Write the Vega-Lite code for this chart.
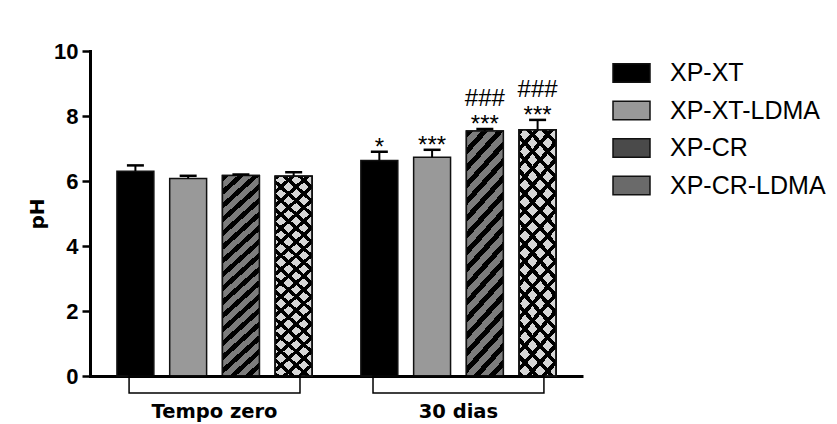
{
  "$schema": "https://vega.github.io/schema/vega-lite/v6.json",
  "width": 493,
  "height": 325,
  "autosize": "none",
  "padding": {"left": 90, "top": 51, "right": 254, "bottom": 48},
  "background": "white",
  "config": {
    "view": {"stroke": null},
    "axis": {"grid": false},
    "axisY": {"domainWidth": 3, "domainColor": "#000", "domainCap": "square", "tickWidth": 2.5, "tickSize": 8, "tickColor": "#000", "labelFont": "Liberation Sans", "labelFontWeight": "bold", "labelFontSize": 22, "labelColor": "#000", "labelPadding": 4, "titleFont": "DejaVu Sans", "titleFontSize": 20, "titleFontWeight": "bold", "titleColor": "#000", "titlePadding": 6, "zindex": 1},
    "axisX": {"domainWidth": 3, "domainColor": "#000", "ticks": false, "tickSize": 0, "labelFont": "DejaVu Sans", "labelFontWeight": "bold", "labelFontSize": 19.5, "labelColor": "#000", "labelPadding": 26, "labelAngle": 0, "zindex": 1}
  },
  "data": {"values": [
    {"time": "Tempo zero", "group": "XP-XT", "ph": 6.3, "hi": 6.48, "sig": ""},
    {"time": "Tempo zero", "group": "XP-XT-LDMA", "ph": 6.08, "hi": 6.16, "sig": ""},
    {"time": "Tempo zero", "group": "XP-CR", "ph": 6.17, "hi": 6.2, "sig": ""},
    {"time": "Tempo zero", "group": "XP-CR-LDMA", "ph": 6.15, "hi": 6.27, "sig": ""},
    {"time": "30 dias", "group": "XP-XT", "ph": 6.63, "hi": 6.9, "sig": "*"},
    {"time": "30 dias", "group": "XP-XT-LDMA", "ph": 6.73, "hi": 6.96, "sig": "***"},
    {"time": "30 dias", "group": "XP-CR", "ph": 7.54, "hi": 7.6, "sig": "###\n***"},
    {"time": "30 dias", "group": "XP-CR-LDMA", "ph": 7.58, "hi": 7.88, "sig": "###\n***"}
  ]},
  "encoding": {
    "x": {"field": "time", "type": "nominal", "sort": ["Tempo zero", "30 dias"], "title": null, "scale": {"paddingInner": 0.135, "paddingOuter": 0.078}},
    "y": {"field": "ph", "type": "quantitative", "title": "pH", "scale": {"domain": [0, 10], "nice": false}, "axis": {"values": [0, 2, 4, 6, 8, 10]}}
  },
  "layer": [
    {
      "encoding": {
        "xOffset": {"field": "group", "type": "nominal", "sort": ["XP-XT", "XP-XT-LDMA", "XP-CR", "XP-CR-LDMA"], "scale": {"paddingInner": 0.3, "paddingOuter": 0.15}}
      },
      "layer": [
        {
          "mark": {"type": "bar", "stroke": "#111", "strokeWidth": 1.5},
          "encoding": {
            "color": {"field": "group", "type": "nominal", "title": null,
              "scale": {"domain": ["XP-XT", "XP-XT-LDMA", "XP-CR", "XP-CR-LDMA"], "range": ["#000000", "#999999", "#4a4a4a", "#6a6a6a"]},
              "legend": {"orient": "none", "legendX": 522, "legendY": 2.5, "symbolType": "M-1,-0.5H1V0.5H-1Z", "symbolSize": 1369, "symbolStrokeColor": "#111", "symbolStrokeWidth": 1.5, "symbolOpacity": 1, "labelFont": "Liberation Sans", "labelFontSize": 25, "labelColor": "#000", "labelOffset": 19, "rowPadding": 4.5, "labelLimit": 300}
            }
          }
        },
        {
          "transform": [{"filter": "datum.group === 'XP-CR'"}],
          "mark": {"type": "bar", "stroke": "#111", "strokeWidth": 1.5, "fill": {"gradient": "linear", "x1": 0, "y1": 0, "x2": 0.1886, "y2": 1.1349, "stops": [
            {"offset": 0, "color": "#000"}, {"offset": 0.02647, "color": "#000"}, {"offset": 0.02647, "color": "#7c7c7c"}, {"offset": 0.05882, "color": "#7c7c7c"},
            {"offset": 0.05882, "color": "#000"}, {"offset": 0.08529, "color": "#000"}, {"offset": 0.08529, "color": "#7c7c7c"}, {"offset": 0.11765, "color": "#7c7c7c"},
            {"offset": 0.11765, "color": "#000"}, {"offset": 0.14412, "color": "#000"}, {"offset": 0.14412, "color": "#7c7c7c"}, {"offset": 0.17647, "color": "#7c7c7c"},
            {"offset": 0.17647, "color": "#000"}, {"offset": 0.20294, "color": "#000"}, {"offset": 0.20294, "color": "#7c7c7c"}, {"offset": 0.23529, "color": "#7c7c7c"},
            {"offset": 0.23529, "color": "#000"}, {"offset": 0.26176, "color": "#000"}, {"offset": 0.26176, "color": "#7c7c7c"}, {"offset": 0.29412, "color": "#7c7c7c"},
            {"offset": 0.29412, "color": "#000"}, {"offset": 0.32059, "color": "#000"}, {"offset": 0.32059, "color": "#7c7c7c"}, {"offset": 0.35294, "color": "#7c7c7c"},
            {"offset": 0.35294, "color": "#000"}, {"offset": 0.37941, "color": "#000"}, {"offset": 0.37941, "color": "#7c7c7c"}, {"offset": 0.41176, "color": "#7c7c7c"},
            {"offset": 0.41176, "color": "#000"}, {"offset": 0.43823, "color": "#000"}, {"offset": 0.43823, "color": "#7c7c7c"}, {"offset": 0.47059, "color": "#7c7c7c"},
            {"offset": 0.47059, "color": "#000"}, {"offset": 0.49706, "color": "#000"}, {"offset": 0.49706, "color": "#7c7c7c"}, {"offset": 0.52941, "color": "#7c7c7c"},
            {"offset": 0.52941, "color": "#000"}, {"offset": 0.55588, "color": "#000"}, {"offset": 0.55588, "color": "#7c7c7c"}, {"offset": 0.58824, "color": "#7c7c7c"},
            {"offset": 0.58824, "color": "#000"}, {"offset": 0.61471, "color": "#000"}, {"offset": 0.61471, "color": "#7c7c7c"}, {"offset": 0.64706, "color": "#7c7c7c"},
            {"offset": 0.64706, "color": "#000"}, {"offset": 0.67353, "color": "#000"}, {"offset": 0.67353, "color": "#7c7c7c"}, {"offset": 0.70588, "color": "#7c7c7c"},
            {"offset": 0.70588, "color": "#000"}, {"offset": 0.73235, "color": "#000"}, {"offset": 0.73235, "color": "#7c7c7c"}, {"offset": 0.76471, "color": "#7c7c7c"},
            {"offset": 0.76471, "color": "#000"}, {"offset": 0.79118, "color": "#000"}, {"offset": 0.79118, "color": "#7c7c7c"}, {"offset": 0.82353, "color": "#7c7c7c"},
            {"offset": 0.82353, "color": "#000"}, {"offset": 0.85, "color": "#000"}, {"offset": 0.85, "color": "#7c7c7c"}, {"offset": 0.88235, "color": "#7c7c7c"},
            {"offset": 0.88235, "color": "#000"}, {"offset": 0.90882, "color": "#000"}, {"offset": 0.90882, "color": "#7c7c7c"}, {"offset": 0.94118, "color": "#7c7c7c"},
            {"offset": 0.94118, "color": "#000"}, {"offset": 0.96765, "color": "#000"}, {"offset": 0.96765, "color": "#7c7c7c"}, {"offset": 1, "color": "#7c7c7c"}]}}
        },
        {
          "transform": [{"filter": "datum.group === 'XP-CR-LDMA'"}],
          "mark": {"type": "bar", "stroke": "#111", "strokeWidth": 1.5, "fill": {"gradient": "linear", "x1": 0, "y1": 0, "x2": 0.1886, "y2": 1.1349, "stops": [
            {"offset": 0, "color": "#000"}, {"offset": 0.01941, "color": "#000"}, {"offset": 0.01941, "color": "#d6d6d6"}, {"offset": 0.05882, "color": "#d6d6d6"},
            {"offset": 0.05882, "color": "#000"}, {"offset": 0.07824, "color": "#000"}, {"offset": 0.07824, "color": "#d6d6d6"}, {"offset": 0.11765, "color": "#d6d6d6"},
            {"offset": 0.11765, "color": "#000"}, {"offset": 0.13706, "color": "#000"}, {"offset": 0.13706, "color": "#d6d6d6"}, {"offset": 0.17647, "color": "#d6d6d6"},
            {"offset": 0.17647, "color": "#000"}, {"offset": 0.19588, "color": "#000"}, {"offset": 0.19588, "color": "#d6d6d6"}, {"offset": 0.23529, "color": "#d6d6d6"},
            {"offset": 0.23529, "color": "#000"}, {"offset": 0.25471, "color": "#000"}, {"offset": 0.25471, "color": "#d6d6d6"}, {"offset": 0.29412, "color": "#d6d6d6"},
            {"offset": 0.29412, "color": "#000"}, {"offset": 0.31353, "color": "#000"}, {"offset": 0.31353, "color": "#d6d6d6"}, {"offset": 0.35294, "color": "#d6d6d6"},
            {"offset": 0.35294, "color": "#000"}, {"offset": 0.37235, "color": "#000"}, {"offset": 0.37235, "color": "#d6d6d6"}, {"offset": 0.41176, "color": "#d6d6d6"},
            {"offset": 0.41176, "color": "#000"}, {"offset": 0.43118, "color": "#000"}, {"offset": 0.43118, "color": "#d6d6d6"}, {"offset": 0.47059, "color": "#d6d6d6"},
            {"offset": 0.47059, "color": "#000"}, {"offset": 0.49, "color": "#000"}, {"offset": 0.49, "color": "#d6d6d6"}, {"offset": 0.52941, "color": "#d6d6d6"},
            {"offset": 0.52941, "color": "#000"}, {"offset": 0.54882, "color": "#000"}, {"offset": 0.54882, "color": "#d6d6d6"}, {"offset": 0.58824, "color": "#d6d6d6"},
            {"offset": 0.58824, "color": "#000"}, {"offset": 0.60765, "color": "#000"}, {"offset": 0.60765, "color": "#d6d6d6"}, {"offset": 0.64706, "color": "#d6d6d6"},
            {"offset": 0.64706, "color": "#000"}, {"offset": 0.66647, "color": "#000"}, {"offset": 0.66647, "color": "#d6d6d6"}, {"offset": 0.70588, "color": "#d6d6d6"},
            {"offset": 0.70588, "color": "#000"}, {"offset": 0.72529, "color": "#000"}, {"offset": 0.72529, "color": "#d6d6d6"}, {"offset": 0.76471, "color": "#d6d6d6"},
            {"offset": 0.76471, "color": "#000"}, {"offset": 0.78412, "color": "#000"}, {"offset": 0.78412, "color": "#d6d6d6"}, {"offset": 0.82353, "color": "#d6d6d6"},
            {"offset": 0.82353, "color": "#000"}, {"offset": 0.84294, "color": "#000"}, {"offset": 0.84294, "color": "#d6d6d6"}, {"offset": 0.88235, "color": "#d6d6d6"},
            {"offset": 0.88235, "color": "#000"}, {"offset": 0.90176, "color": "#000"}, {"offset": 0.90176, "color": "#d6d6d6"}, {"offset": 0.94118, "color": "#d6d6d6"},
            {"offset": 0.94118, "color": "#000"}, {"offset": 0.96059, "color": "#000"}, {"offset": 0.96059, "color": "#d6d6d6"}, {"offset": 1, "color": "#d6d6d6"}]}}
        },
        {
          "transform": [{"filter": "datum.group === 'XP-CR-LDMA'"}],
          "mark": {"type": "bar", "stroke": "#111", "strokeWidth": 1.5, "fill": {"gradient": "linear", "x1": 0, "y1": 1, "x2": 0.1886, "y2": -0.1349, "stops": [
            {"offset": 0, "color": "#000"}, {"offset": 0.01941, "color": "#000"}, {"offset": 0.01941, "color": "rgba(0,0,0,0)"}, {"offset": 0.05882, "color": "rgba(0,0,0,0)"},
            {"offset": 0.05882, "color": "#000"}, {"offset": 0.07824, "color": "#000"}, {"offset": 0.07824, "color": "rgba(0,0,0,0)"}, {"offset": 0.11765, "color": "rgba(0,0,0,0)"},
            {"offset": 0.11765, "color": "#000"}, {"offset": 0.13706, "color": "#000"}, {"offset": 0.13706, "color": "rgba(0,0,0,0)"}, {"offset": 0.17647, "color": "rgba(0,0,0,0)"},
            {"offset": 0.17647, "color": "#000"}, {"offset": 0.19588, "color": "#000"}, {"offset": 0.19588, "color": "rgba(0,0,0,0)"}, {"offset": 0.23529, "color": "rgba(0,0,0,0)"},
            {"offset": 0.23529, "color": "#000"}, {"offset": 0.25471, "color": "#000"}, {"offset": 0.25471, "color": "rgba(0,0,0,0)"}, {"offset": 0.29412, "color": "rgba(0,0,0,0)"},
            {"offset": 0.29412, "color": "#000"}, {"offset": 0.31353, "color": "#000"}, {"offset": 0.31353, "color": "rgba(0,0,0,0)"}, {"offset": 0.35294, "color": "rgba(0,0,0,0)"},
            {"offset": 0.35294, "color": "#000"}, {"offset": 0.37235, "color": "#000"}, {"offset": 0.37235, "color": "rgba(0,0,0,0)"}, {"offset": 0.41176, "color": "rgba(0,0,0,0)"},
            {"offset": 0.41176, "color": "#000"}, {"offset": 0.43118, "color": "#000"}, {"offset": 0.43118, "color": "rgba(0,0,0,0)"}, {"offset": 0.47059, "color": "rgba(0,0,0,0)"},
            {"offset": 0.47059, "color": "#000"}, {"offset": 0.49, "color": "#000"}, {"offset": 0.49, "color": "rgba(0,0,0,0)"}, {"offset": 0.52941, "color": "rgba(0,0,0,0)"},
            {"offset": 0.52941, "color": "#000"}, {"offset": 0.54882, "color": "#000"}, {"offset": 0.54882, "color": "rgba(0,0,0,0)"}, {"offset": 0.58824, "color": "rgba(0,0,0,0)"},
            {"offset": 0.58824, "color": "#000"}, {"offset": 0.60765, "color": "#000"}, {"offset": 0.60765, "color": "rgba(0,0,0,0)"}, {"offset": 0.64706, "color": "rgba(0,0,0,0)"},
            {"offset": 0.64706, "color": "#000"}, {"offset": 0.66647, "color": "#000"}, {"offset": 0.66647, "color": "rgba(0,0,0,0)"}, {"offset": 0.70588, "color": "rgba(0,0,0,0)"},
            {"offset": 0.70588, "color": "#000"}, {"offset": 0.72529, "color": "#000"}, {"offset": 0.72529, "color": "rgba(0,0,0,0)"}, {"offset": 0.76471, "color": "rgba(0,0,0,0)"},
            {"offset": 0.76471, "color": "#000"}, {"offset": 0.78412, "color": "#000"}, {"offset": 0.78412, "color": "rgba(0,0,0,0)"}, {"offset": 0.82353, "color": "rgba(0,0,0,0)"},
            {"offset": 0.82353, "color": "#000"}, {"offset": 0.84294, "color": "#000"}, {"offset": 0.84294, "color": "rgba(0,0,0,0)"}, {"offset": 0.88235, "color": "rgba(0,0,0,0)"},
            {"offset": 0.88235, "color": "#000"}, {"offset": 0.90176, "color": "#000"}, {"offset": 0.90176, "color": "rgba(0,0,0,0)"}, {"offset": 0.94118, "color": "rgba(0,0,0,0)"},
            {"offset": 0.94118, "color": "#000"}, {"offset": 0.96059, "color": "#000"}, {"offset": 0.96059, "color": "rgba(0,0,0,0)"}, {"offset": 1, "color": "rgba(0,0,0,0)"}]}}
        },
        {
          "mark": {"type": "rule", "color": "#000", "strokeWidth": 2},
          "encoding": {"y2": {"field": "hi"}}
        },
        {
          "mark": {"type": "tick", "color": "#000", "size": 17, "thickness": 2.5, "opacity": 1},
          "encoding": {"y": {"field": "hi", "type": "quantitative"}}
        },
        {
          "transform": [{"filter": "indexof(datum.sig, '#') < 0"}],
          "mark": {"type": "text", "font": "Liberation Sans", "fontSize": 24, "baseline": "alphabetic", "align": "center", "dy": 3, "color": "#000"},
          "encoding": {"y": {"field": "hi", "type": "quantitative"}, "text": {"field": "sig"}}
        },
        {
          "transform": [{"filter": "indexof(datum.sig, '#') >= 0"}],
          "mark": {"type": "text", "font": "Liberation Sans", "fontSize": 24, "lineHeight": 26, "lineBreak": "\n", "baseline": "alphabetic", "align": "center", "dy": -23, "color": "#000"},
          "encoding": {"y": {"field": "hi", "type": "quantitative"}, "text": {"field": "sig"}}
        }
      ]
    },
    {
      "transform": [{"filter": "datum.group === 'XP-XT'"}],
      "mark": {"type": "bar", "width": {"band": 0.81}, "fill": "white", "fillOpacity": 0, "stroke": "#000", "strokeWidth": 1.5, "y2Offset": 17},
      "encoding": {"y": {"datum": 0, "type": "quantitative"}, "y2": {"datum": 0}}
    }
  ]
}
